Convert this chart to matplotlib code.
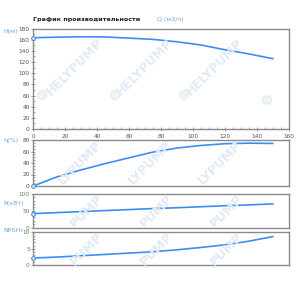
import matplotlib
matplotlib.use("Agg")
import matplotlib.pyplot as plt
from matplotlib.ticker import MultipleLocator
from matplotlib.patches import Circle

# ---- data ----
Q = [0, 15, 30, 45, 60, 75, 90, 105, 120, 135, 150]
H = [163.5, 164.5, 165.2, 164.8, 162.8, 160.5, 156.2, 150.5, 142, 134.5, 126]
EFF = [0, 16, 28, 39, 49, 59, 66, 70.5, 73.5, 74.5, 74]
P = [41.5, 44.5, 47.5, 50.5, 53.5, 56.5, 59, 62, 65, 67.5, 70.5]
NPSH = [2.2, 2.5, 2.9, 3.3, 3.7, 4.1, 4.7, 5.4, 6.2, 7.3, 8.7]

title = "График производительности"
q_label = "Q (м3/ч)"
y_labels = ["H(м)", "η(%)", "P(кВт)", "NPSHr"]

plt.rcParams['font.family'] = ['DejaVu Sans']
W, Hpx = 300, 288
fig = plt.figure(figsize=(W / 100, Hpx / 100), dpi=100)

line_c = '#3d8ef2'
lab_c = '#6aa6ee'
spine_c = '#8a8a8a'
wm_c = '#e0ebf7'

def rect(top, bottom, left=33.3, right=288.7):
    return [left / W, 1 - bottom / Hpx, (right - left) / W, (bottom - top) / Hpx]

def fx(x):
    return x / W

def fy(y):
    return 1 - y / Hpx

specs = [
    (rect(28.5, 129), H, (0, 180), 20, 10, '#555555', y_labels[0], 31),
    (rect(140, 186), EFF, (0, 80), 20, 5, '#555555', y_labels[1], 141),
    (rect(194, 227.5), P, (0, 100), 50, 10, '#6b8060', y_labels[2], 203),
    (rect(232.3, 265.3), NPSH, (0, 10), 5, 1, '#6b8060', y_labels[3], 231),
]

# watermark (figure pixel centres)
wm = [
    ("HELYPUMP", [(75, 67), (145, 67), (215, 67)]),
    ("LYPUMP", [(80, 163), (150, 163), (220, 163)]),
    ("PUMP", [(87, 211), (157, 211), (227, 211)]),
    ("PUMP", [(87, 249), (157, 249), (227, 249)]),
]
for txt, pts in wm:
    for (x, y) in pts:
        fig.text(fx(x), fy(y), txt, rotation=45, color=wm_c, fontsize=9, fontweight='bold',
                 ha='center', va='center', rotation_mode='anchor', zorder=0)
for (x, y) in [(42, 95), (115, 95), (184, 95), (267, 100)]:
    fig.patches.append(Circle((fx(x), fy(y)), 4.5 / W, transform=fig.transFigure,
                              facecolor='#f0f6ee', edgecolor='#e2edf6', lw=1, zorder=0))

for i, (r, data, ylim, major, minor, tcol, lab, ly) in enumerate(specs):
    ax = fig.add_axes(r)
    ax.patch.set_alpha(0)
    ax.set_xlim(0, 160)
    ax.set_ylim(*ylim)
    ax.yaxis.set_major_locator(MultipleLocator(major))
    ax.yaxis.set_minor_locator(MultipleLocator(minor))
    ax.xaxis.set_major_locator(MultipleLocator(20))
    ax.xaxis.set_minor_locator(MultipleLocator(5))
    for s in ax.spines.values():
        s.set_color(spine_c)
        s.set_linewidth(1.0)
    ax.tick_params(axis='y', which='major', direction='inout', length=3, width=0.6,
                   colors=spine_c, labelcolor=tcol, labelsize=4.2, pad=1)
    ax.tick_params(axis='y', which='minor', direction='in', length=1.5, width=0.5, colors=spine_c)
    if i == 0:
        ax.tick_params(axis='x', which='major', direction='inout', length=3, width=0.6,
                       colors=spine_c, labelcolor='#555555', labelsize=4.2, pad=2)
        ax.tick_params(axis='x', which='minor', direction='in', length=1.5, width=0.5, colors=spine_c)
    else:
        ax.tick_params(axis='x', which='both', length=0, labelbottom=False)
    ax.plot(Q, data, color=line_c, lw=1.2, zorder=3, clip_on=False)
    ax.plot(Q[0], data[0], 'o', ms=2.6, mfc='white', mec=line_c, mew=0.8, zorder=4, clip_on=False)
    fig.text(3 / W, 1 - ly / Hpx, lab, color=lab_c, fontsize=4.6, ha='left', va='center')

fig.text(33 / W, 1 - 20 / Hpx, title, fontsize=4.6, fontweight='bold', color='#222222',
         ha='left', va='center')
fig.text(157 / W, 1 - 20 / Hpx, q_label, fontsize=4.6, color=lab_c, ha='left', va='center')

fig.savefig("out.png", dpi=100, facecolor='white')
